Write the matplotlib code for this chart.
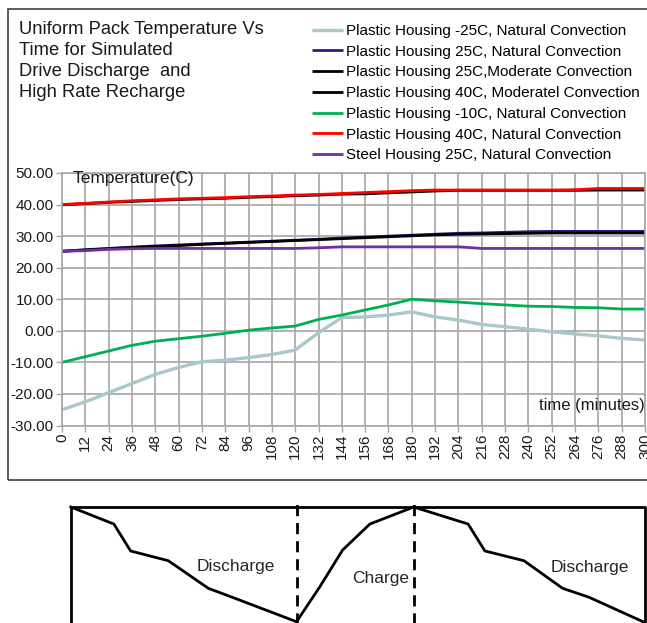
import matplotlib.pyplot as plt
from matplotlib.ticker import FuncFormatter, MultipleLocator
from matplotlib.patches import Rectangle

plt.rcParams['font.family'] = ['Liberation Sans', 'DejaVu Sans']
plt.rcParams['axes.unicode_minus'] = False

# time axis (minutes)
minutes = [0, 12, 24, 36, 48, 60, 72, 84, 96, 108, 120, 132, 144, 156, 168,
           180, 192, 204, 216, 228, 240, 252, 264, 276, 288, 300]

# pack temperature (C) per case
plastic_m25_nat = [-25.0, -22.5, -19.6, -16.7, -13.8, -11.6, -9.8, -9.3, -8.5, -7.5,
                   -6.1, -0.6, 4.2, 4.4, 5.0, 6.0, 4.4, 3.4, 2.0, 1.3,
                   0.5, -0.3, -1.0, -1.6, -2.4, -2.9]
plastic_25_nat = [25.2, 25.7, 26.1, 26.5, 26.9, 27.2, 27.5, 27.8, 28.1, 28.4,
                  28.7, 29.0, 29.4, 29.7, 30.0, 30.3, 30.6, 30.9, 31.0, 31.2,
                  31.4, 31.5, 31.5, 31.5, 31.5, 31.5]
plastic_25_mod = [25.2, 25.6, 26.0, 26.4, 26.7, 27.0, 27.4, 27.7, 28.0, 28.3,
                  28.6, 28.9, 29.2, 29.5, 29.8, 30.1, 30.4, 30.6, 30.7, 30.8,
                  30.9, 31.0, 31.0, 31.0, 31.0, 31.0]
plastic_40_mod = [39.9, 40.3, 40.7, 41.0, 41.3, 41.6, 41.8, 42.0, 42.3, 42.5,
                  42.8, 43.0, 43.3, 43.4, 43.7, 44.0, 44.3, 44.5, 44.5, 44.5,
                  44.5, 44.5, 44.5, 44.6, 44.6, 44.6]
plastic_m10_nat = [-10.0, -8.2, -6.4, -4.6, -3.3, -2.5, -1.7, -0.8, 0.2, 0.9,
                   1.5, 3.6, 5.0, 6.6, 8.2, 10.0, 9.5, 9.1, 8.6, 8.2,
                   7.8, 7.7, 7.4, 7.3, 6.9, 6.9]
plastic_40_nat = [40.0, 40.4, 40.8, 41.2, 41.5, 41.8, 42.0, 42.2, 42.5, 42.7,
                  43.0, 43.2, 43.5, 43.8, 44.1, 44.4, 44.6, 44.6, 44.6, 44.6,
                  44.6, 44.6, 44.7, 45.1, 45.1, 45.1]
steel_25_nat = [25.2, 25.4, 25.8, 26.0, 26.1, 26.1, 26.1, 26.1, 26.1, 26.1,
                26.1, 26.3, 26.6, 26.6, 26.6, 26.6, 26.6, 26.6, 26.1, 26.1,
                26.1, 26.1, 26.1, 26.1, 26.1, 26.1]

labels = ['Plastic Housing -25C, Natural Convection',
          'Plastic Housing 25C, Natural Convection',
          'Plastic Housing 25C,Moderate Convection',
          'Plastic Housing 40C, Moderatel Convection',
          'Plastic Housing -10C, Natural Convection',
          'Plastic Housing 40C, Natural Convection',
          'Steel Housing 25C, Natural Convection']
series = [plastic_m25_nat, plastic_25_nat, plastic_25_mod, plastic_40_mod,
          plastic_m10_nat, plastic_40_nat, steel_25_nat]
colors = ['#a8c8ca', '#202080', '#000000', '#000000', '#00b050', '#ff0000', '#7030a0']

# drive cycle schematic: (minute, relative state of charge)
cycle_t = [4.5, 26.7, 35.3, 54.7, 75.3, 89.0, 120.7,
           132.7, 144.4, 158.4, 181.0,
           209.0, 217.6, 237.7, 257.6, 271.2, 299.0]
cycle_soc = [1.0, 0.853, 0.621, 0.537, 0.299, 0.213, 0.011,
             0.313, 0.629, 0.853, 1.0,
             0.853, 0.621, 0.537, 0.299, 0.222, 0.011]
phase_edges = [120.7, 181.0]

W, H = 647, 623
fig = plt.figure(figsize=(W / 100, H / 100), dpi=100)

# outer chart frame
fig.add_artist(Rectangle((8 / W, 1 - 480 / H), 1.1, (480 - 9) / H,
                         transform=fig.transFigure, fill=False,
                         edgecolor='#404040', linewidth=1.2))

ax = fig.add_axes([62 / W, 1 - 425.5 / H, (645 - 62) / W, (425.5 - 173) / H])
for vals, lab, col in zip(series, labels, colors):
    lw = 2.4 if col == '#a8c8ca' else 2.0
    ax.plot(minutes, vals, color=col, linewidth=lw, label=lab, solid_capstyle='butt')

ax.set_xlim(0, 300)
ax.set_ylim(-30, 50)
ax.set_xticks(minutes)
ax.set_xticklabels([str(m) for m in minutes], rotation=90)
ax.yaxis.set_major_locator(MultipleLocator(10))
ax.yaxis.set_major_formatter(FuncFormatter(lambda v, p: f'{v:.2f}'))
ax.grid(True, color='#a6a6a6', linewidth=1.2)
ax.set_axisbelow(True)
for sp in ax.spines.values():
    sp.set_color('#a6a6a6')
    sp.set_linewidth(1.2)
ax.tick_params(axis='both', colors='#a6a6a6', length=4, width=1.0,
               labelcolor='#1a1a1a', labelsize=11, pad=2)

ax.text(5.5, 48.3, 'Temperature(C)', fontsize=12.5, color='#1a1a1a', va='center')
ax.text(300, -23.6, 'time (minutes)', fontsize=12, color='#1a1a1a',
        va='center', ha='right')

fig.text(19 / W, 1 - 21 / H,
         'Uniform Pack Temperature Vs\nTime for Simulated\nDrive Discharge  and\nHigh Rate Recharge',
         fontsize=13.2, color='#1a1a1a', va='top', ha='left', linespacing=1.3)

handles, labs = ax.get_legend_handles_labels()
fig.legend(handles, labs, loc='upper left', bbox_to_anchor=(312 / W, 1 - 24 / H),
           frameon=False, fontsize=11, handlelength=2.0, handletextpad=0.25,
           labelspacing=0.44, borderpad=0, borderaxespad=0)

# drive cycle schematic below the chart
ax2 = fig.add_axes([62 / W, 0, (645 - 62) / W, 128 / H])
ax2.set_xlim(0, 300)
ax2.set_ylim(0, 128 / 116)
ax2.axis('off')
ax2.plot([cycle_t[0], cycle_t[0], 300, 300], [-0.1, 1.0, 1.0, -0.1],
         color='black', linewidth=2.0, clip_on=False)
ax2.plot(cycle_t, cycle_soc, color='black', linewidth=2.0, clip_on=False)
for edge in phase_edges:
    ax2.plot([edge, edge], [-0.1, 1.08], color='black', linewidth=2.0,
             linestyle=(0, (4, 2.5)), clip_on=False)
ax2.text(89.5, 0.483, 'Discharge', fontsize=12.5, color='#262626', ha='center', va='center')
ax2.text(163.8, 0.38, 'Charge', fontsize=12.5, color='#262626', ha='center', va='center')
ax2.text(271.6, 0.48, 'Discharge', fontsize=12.5, color='#262626', ha='center', va='center')

fig.savefig('out.png', dpi=100)
